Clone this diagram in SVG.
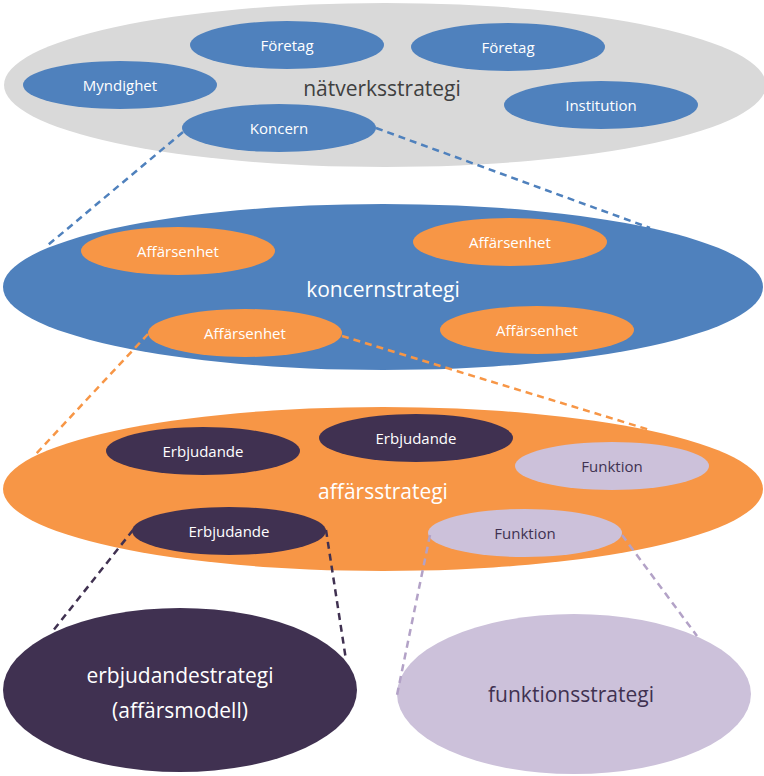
<svg xmlns="http://www.w3.org/2000/svg" width="764" height="776" viewBox="0 0 764 776">
<style>
text{font-family:"Open Sans","Liberation Sans",sans-serif;text-anchor:middle;dominant-baseline:central}
.s{font-size:15px;fill:#fff}
.b{font-size:21px;fill:#fff}
.blue{fill:#4f81bd}.or{fill:#f79646}.dp{fill:#403151}.lp{fill:#ccc1da}
.dl{fill:none;stroke-width:2.5;stroke-dasharray:7,5}
</style>
<rect width="764" height="776" fill="#fff"/>
<g id="natverk"><ellipse cx="385" cy="85" rx="381" ry="82" fill="#d9d9d9"/><text x="382" y="88" font-size="21" fill="#404040" style="font-size:21px">nätverksstrategi</text></g>
<g id="foretag1"><ellipse class="blue" cx="287" cy="45" rx="97" ry="24"/><text class="s" x="287" y="45">Företag</text></g>
<g id="foretag2"><ellipse class="blue" cx="508" cy="47" rx="97" ry="24"/><text class="s" x="508" y="47">Företag</text></g>
<g id="myndighet"><ellipse class="blue" cx="120" cy="85" rx="97" ry="24"/><text class="s" x="120" y="85">Myndighet</text></g>
<g id="institution"><ellipse class="blue" cx="601" cy="105" rx="97" ry="24"/><text class="s" x="601" y="105">Institution</text></g>
<g id="koncern"><ellipse class="blue" cx="279" cy="128" rx="97" ry="24"/><text class="s" x="279" y="128">Koncern</text></g>
<g id="koncernstrategi"><ellipse class="blue" cx="383" cy="287" rx="380" ry="83"/><text class="b" x="383" y="289">koncernstrategi</text></g>
<g id="ae1"><ellipse class="or" cx="178" cy="251" rx="97" ry="24"/><text class="s" x="178" y="251">Affärsenhet</text></g>
<g id="ae2"><ellipse class="or" cx="510" cy="242" rx="97" ry="24"/><text class="s" x="510" y="242">Affärsenhet</text></g>
<g id="ae3"><ellipse class="or" cx="245" cy="333" rx="97" ry="24"/><text class="s" x="245" y="333">Affärsenhet</text></g>
<g id="ae4"><ellipse class="or" cx="537" cy="330" rx="97" ry="24"/><text class="s" x="537" y="330">Affärsenhet</text></g>
<g id="affarsstrategi"><ellipse class="or" cx="383" cy="489" rx="380" ry="82"/><text class="b" x="383" y="491">affärsstrategi</text></g>
<g id="erb1"><ellipse class="dp" cx="203" cy="451" rx="97" ry="24"/><text class="s" x="203" y="451">Erbjudande</text></g>
<g id="erb2"><ellipse class="dp" cx="416" cy="438" rx="97" ry="24"/><text class="s" x="416" y="438">Erbjudande</text></g>
<g id="erb3"><ellipse class="dp" cx="229" cy="531" rx="97" ry="24"/><text class="s" x="229" y="531">Erbjudande</text></g>
<g id="fun1"><ellipse class="lp" cx="612" cy="466" rx="97" ry="24"/><text class="s" x="612" y="466" style="fill:#403151">Funktion</text></g>
<g id="fun2"><ellipse class="lp" cx="525" cy="533" rx="97" ry="24"/><text class="s" x="525" y="533" style="fill:#403151">Funktion</text></g>
<g id="erbjudandestrategi"><ellipse class="dp" cx="180" cy="690" rx="177" ry="82"/><text class="b" x="180" y="675">erbjudandestrategi</text><text class="b" x="180" y="710">(affärsmodell)</text></g>
<g id="funktionsstrategi"><ellipse class="lp" cx="574" cy="694" rx="177" ry="80"/><text class="b" x="571" y="694" style="fill:#403151">funktionsstrategi</text></g>
<g id="connectors">
<path class="dl" stroke="#4f81bd" d="M183,132 L48,245 M376,128 L650,228"/>
<path class="dl" stroke="#f79646" d="M148,334 L35,455 M342,336 L650,430"/>
<path class="dl" stroke="#403151" d="M133,530 L52,632 M326,530 L346,660"/>
<path class="dl" stroke="#b3a2c7" d="M430,535 L397,695 M622,535 L697,636"/>
</g>
</svg>
